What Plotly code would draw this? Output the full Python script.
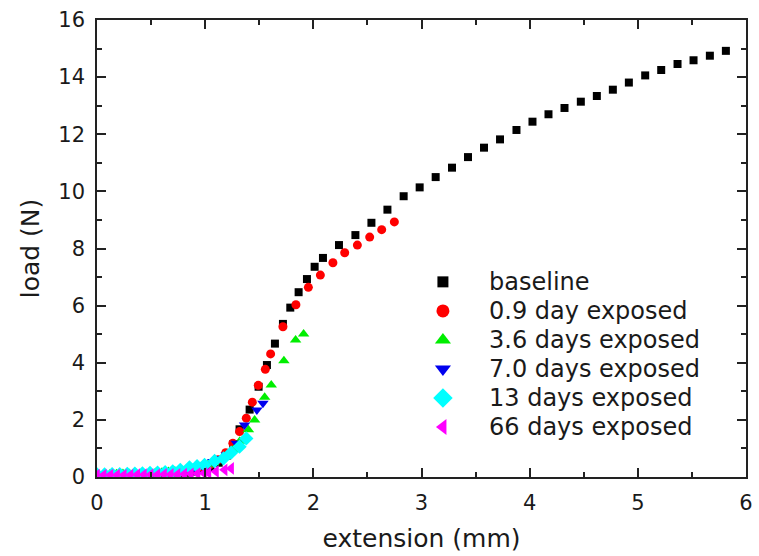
import plotly.graph_objects as go

# ---- data: load vs. extension for each exposure time ----
x_base = [0.00, 0.075, 0.15, 0.225, 0.30, 0.375, 0.45, 0.525, 0.60, 0.675, 0.75, 0.825, 0.90, 0.975,
          1.05, 1.125, 1.20, 1.26, 1.318, 1.411, 1.494, 1.571, 1.645, 1.719, 1.787, 1.864, 1.941,
          2.012, 2.089, 2.237, 2.389, 2.537, 2.685, 2.835, 2.983, 3.131, 3.282, 3.43, 3.578, 3.726,
          3.878, 4.026, 4.174, 4.322, 4.473, 4.621, 4.769, 4.917, 5.068, 5.216, 5.367, 5.515, 5.666, 5.814]
y_base = [0.05, 0.05, 0.05, 0.06, 0.06, 0.07, 0.07, 0.08, 0.09, 0.10, 0.12, 0.15, 0.19, 0.25,
          0.34, 0.50, 0.75, 1.15, 1.67, 2.36, 3.16, 3.92, 4.67, 5.36, 5.93, 6.47, 6.93,
          7.36, 7.67, 8.12, 8.47, 8.90, 9.36, 9.83, 10.14, 10.50, 10.83, 11.20, 11.53, 11.82,
          12.15, 12.44, 12.70, 12.92, 13.14, 13.34, 13.56, 13.81, 14.06, 14.25, 14.46, 14.59, 14.75, 14.92]

x_d09 = [0.00, 0.07, 0.14, 0.21, 0.28, 0.35, 0.42, 0.49, 0.56, 0.63, 0.70, 0.77, 0.84, 0.91, 0.98,
         1.05, 1.12, 1.19, 1.256, 1.318, 1.38, 1.436, 1.491, 1.556, 1.605, 1.719, 1.839, 1.954,
         2.065, 2.181, 2.29, 2.407, 2.521, 2.632, 2.749]
y_d09 = [0.06, 0.06, 0.07, 0.07, 0.08, 0.08, 0.09, 0.10, 0.11, 0.12, 0.14, 0.17, 0.21, 0.26, 0.33,
         0.44, 0.60, 0.85, 1.18, 1.59, 2.06, 2.62, 3.21, 3.77, 4.31, 5.26, 6.03, 6.64,
         7.07, 7.50, 7.85, 8.12, 8.40, 8.66, 8.93]

x_d36 = [0.00, 0.06, 0.12, 0.18, 0.24, 0.30, 0.36, 0.42, 0.48, 0.54, 0.60, 0.66, 0.72, 0.78, 0.84,
         0.90, 0.96, 1.02, 1.08, 1.14, 1.20, 1.26, 1.32, 1.40, 1.457, 1.55, 1.611, 1.728, 1.836, 1.91]
y_d36 = [0.10, 0.10, 0.11, 0.11, 0.12, 0.12, 0.13, 0.14, 0.15, 0.16, 0.17, 0.19, 0.21, 0.24, 0.27,
         0.31, 0.36, 0.42, 0.50, 0.60, 0.75, 0.95, 1.25, 1.65, 2.00, 2.79, 3.22, 4.07, 4.80, 5.01]

x_d70 = [0.00, 0.07, 0.14, 0.21, 0.28, 0.35, 0.42, 0.49, 0.56, 0.63, 0.70, 0.77, 0.84, 0.91, 0.98,
         1.07, 1.13, 1.195, 1.288, 1.364, 1.478, 1.534]
y_d70 = [0.07, 0.07, 0.08, 0.08, 0.09, 0.09, 0.10, 0.11, 0.12, 0.13, 0.15, 0.18, 0.22, 0.28, 0.38,
         0.54, 0.64, 0.77, 1.18, 1.82, 2.35, 2.58]

x_d13 = [0.00, 0.07, 0.14, 0.21, 0.28, 0.35, 0.42, 0.49, 0.56, 0.63, 0.70, 0.77, 0.855, 0.925,
         0.994, 1.087, 1.17, 1.24, 1.318, 1.38]
y_d13 = [0.09, 0.09, 0.10, 0.10, 0.11, 0.12, 0.13, 0.14, 0.15, 0.17, 0.20, 0.25, 0.34, 0.38,
         0.42, 0.56, 0.65, 0.85, 1.06, 1.35]

x_d66 = [0.00, 0.062, 0.124, 0.186, 0.248, 0.31, 0.372, 0.434, 0.496, 0.558, 0.62, 0.682, 0.744,
         0.806, 0.868, 0.93, 0.99, 1.03, 1.10, 1.18, 1.24]
y_d66 = [0.07, 0.07, 0.07, 0.07, 0.07, 0.07, 0.08, 0.08, 0.08, 0.08, 0.09, 0.09, 0.09,
         0.10, 0.11, 0.12, 0.13, 0.15, 0.19, 0.25, 0.30]

names = ["baseline", "0.9 day exposed", "3.6 days exposed", "7.0 days exposed",
         "13 days exposed", "66 days exposed"]

# ---- styling ----
FONT = "DejaVu Sans"
series = [
    (x_base, y_base, "square", "#000000", 8, 11),
    (x_d09, y_d09, "circle", "#ff0000", 9, 13),
    (x_d36, y_d36, "triangle-up", "#00ee00", 10, 14),
    (x_d70, y_d70, "triangle-down", "#0000ee", 10, 14),
    (x_d13, y_d13, "diamond", "#00ffff", 11, 15),
    (x_d66, y_d66, "triangle-left", "#ff00ff", 11, 14),
]

fig = go.Figure()
for (xs, ys, sym, col, sz, _), nm in zip(series, names):
    fig.add_trace(go.Scatter(x=xs, y=ys, mode="markers", name=nm, showlegend=False,
                             marker=dict(symbol=sym, color=col, size=sz, line=dict(width=0))))

# legend: key symbols on an overlay [0,1] axis pair, labels as annotations
key_x, text_x = 0.533, 0.601
row_top, row_step = 0.427, 0.0635
for i, ((_, _, sym, col, _, ksz), nm) in enumerate(zip(series, names)):
    ry = row_top - i * row_step
    fig.add_trace(go.Scatter(x=[key_x], y=[ry], xaxis="x2", yaxis="y2", mode="markers",
                             showlegend=False, hoverinfo="skip",
                             marker=dict(symbol=sym, color=col, size=ksz, line=dict(width=0))))
    fig.add_annotation(x=text_x, y=ry, xref="paper", yref="paper", text=nm, showarrow=False,
                       xanchor="left", yanchor="middle",
                       font=dict(family=FONT, size=24, color="#1a1a1a"))

axis_common = dict(
    showline=True, linecolor="#222", linewidth=1.5, mirror="allticks",
    ticks="inside", ticklen=9, tickwidth=1.5, tickcolor="#222",
    showgrid=False, zeroline=False, automargin=False,
    tickfont=dict(family=FONT, size=21, color="#1a1a1a"),
)

fig.update_layout(
    width=759, height=556,
    margin=dict(l=97, r=13, t=20, b=79),
    paper_bgcolor="white", plot_bgcolor="white",
    xaxis=dict(range=[0, 6], dtick=1, tick0=0,
               minor=dict(dtick=0.5, ticks="inside", ticklen=5, tickwidth=1.5, tickcolor="#222"),
               title=dict(text="extension (mm)", font=dict(family=FONT, size=25, color="#1a1a1a"),
                          standoff=16),
               ticklabelstandoff=6,
               **axis_common),
    yaxis=dict(range=[0, 16], dtick=2, tick0=0,
               minor=dict(dtick=1, ticks="inside", ticklen=5, tickwidth=1.5, tickcolor="#222"),
               title=dict(text="load (N)", font=dict(family=FONT, size=25, color="#1a1a1a"),
                          standoff=12),
               ticklabelstandoff=6,
               **axis_common),
    xaxis2=dict(range=[0, 1], overlaying="x", anchor="y2", visible=False),
    yaxis2=dict(range=[0, 1], overlaying="y", anchor="x2", visible=False),
    showlegend=False,
)

fig.write_html("out.html")
